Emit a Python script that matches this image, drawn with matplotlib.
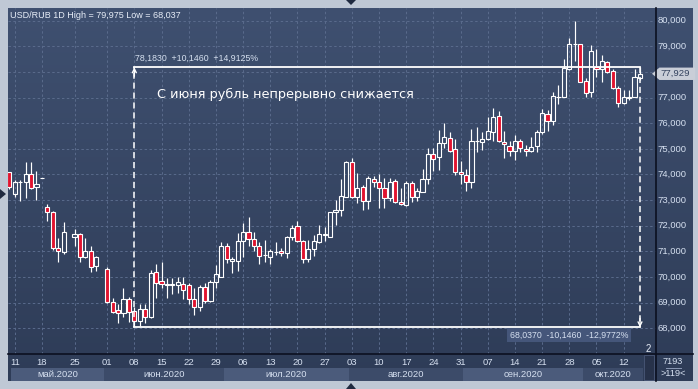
import numpy as np
import pandas as pd
import matplotlib
matplotlib.use("Agg")
import matplotlib.pyplot as plt
from matplotlib.patches import Polygon, Rectangle
from matplotlib.colors import LinearSegmentedColormap
import matplotlib.transforms as mtransforms

# ---------------- data ----------------
title_pair = "USD/RUB 1D"
# sessions: weekdays plus two empty weekend slots present on the reference axis
extra_sessions = ["2020-05-23", "2020-05-30"]
sessions = sorted(list(pd.bdate_range("2020-05-08", "2020-10-15")) +
                  [pd.Timestamp(d) for d in extra_sessions])

opens = [74.08, 73.24, 73.70, 73.70, 74.02, 73.52, 73.85, 72.72, 72.53, 71.12,
         70.99, None, 71.57, 71.68, 70.79, 71.02, 70.44, None, 70.31, 69.04,
         68.70, 68.58, 69.13, 68.66, 68.28, 68.74, 68.45, 70.18, 69.84, 69.70,
         69.70, 69.69, 69.72, 69.69, 69.14, 68.82, 69.60, 69.08, 69.79, 70.01,
         71.21, 70.64, 70.64, 71.41, 71.74, 71.47, 71.22, 70.84, 70.79, 70.98,
         71.02, 70.95, 71.55, 71.99, 71.42, 70.69, 71.08, 71.38, 71.64, 71.57,
         72.52, 72.61, 73.13, 74.47, 73.11, 73.50, 72.98, 73.81, 73.70, 73.48,
         73.09, 73.73, 72.92, 72.81, 73.66, 73.13, 73.33, 73.81, 74.80, 74.67,
         75.22, 75.41, 74.99, 74.09, 73.98, 73.70, 75.30, 75.26, 75.37, 75.67,
         76.29, 75.28, 75.12, 74.92, 75.32, 74.98, 74.92, 75.12, 75.65, 76.35,
         76.10, 77.03, 77.04, 78.12, 79.08, 79.09, 77.65, 77.23, 78.18, 78.10,
         78.40, 78.04, 77.36, 76.78, 77.00, 77.04, 77.78]
highs = [74.10, 73.78, 73.78, 74.47, 74.47, 74.15, 73.85, 72.85, 72.57, 71.53,
         72.13, None, 71.87, 71.70, 71.53, 71.22, 70.83, None, 70.40, 69.17,
         68.95, 69.58, 69.23, 68.84, 68.93, 68.95, 70.27, 70.51, 70.57, 69.97,
         69.97, 70.01, 70.00, 69.76, 69.56, 69.69, 69.78, 69.88, 70.47, 71.35,
         71.34, 70.77, 71.71, 72.10, 72.35, 71.74, 71.35, 71.46, 71.09, 71.35,
         71.12, 71.60, 72.03, 72.19, 71.44, 71.46, 71.64, 72.03, 71.96, 72.55,
         73.00, 73.81, 74.53, 74.66, 74.05, 73.59, 73.94, 73.94, 74.02, 73.85,
         73.85, 73.81, 73.46, 73.75, 73.75, 73.46, 74.20, 75.02, 75.02, 75.74,
         76.00, 75.67, 75.37, 74.54, 74.20, 75.76, 75.84, 75.67, 76.26, 76.58,
         76.48, 75.70, 75.31, 75.54, 75.39, 75.15, 75.47, 75.74, 76.54, 76.52,
         77.23, 77.49, 78.51, 79.31, 79.975, 79.10, 77.75, 79.05, 78.88, 78.66,
         78.44, 78.10, 77.45, 77.30, 77.30, 78.10, 78.183]
lows = [73.45, 73.13, 72.98, 73.09, 73.42, 73.00, 73.85, 72.20, 71.05, 70.60,
        70.89, None, 71.22, 70.60, 70.73, 70.18, 70.25, None, 69.00, 68.58,
        68.22, 68.45, 68.26, 68.037, 68.10, 68.22, 68.39, 69.19, 69.58, 69.19,
        69.33, 69.36, 69.16, 68.95, 68.52, 68.69, 69.00, 69.04, 69.58, 69.99,
        70.56, 70.17, 70.25, 70.79, 71.22, 71.03, 70.50, 70.60, 70.50, 70.86,
        70.83, 70.75, 71.46, 71.35, 70.54, 70.60, 70.82, 71.31, 71.40, 71.55,
        72.03, 72.38, 73.11, 73.07, 72.88, 72.61, 72.65, 73.52, 72.68, 72.68,
        72.97, 72.88, 72.81, 72.78, 72.94, 72.98, 73.33, 73.63, 74.15, 74.18,
        75.02, 74.89, 73.98, 73.62, 73.37, 73.48, 74.89, 74.96, 75.35, 75.32,
        75.28, 74.66, 74.73, 74.57, 74.87, 74.73, 74.87, 74.89, 75.58, 75.71,
        75.93, 76.75, 77.01, 78.08, 78.44, 77.60, 77.01, 77.01, 77.82, 77.62,
        77.97, 77.32, 76.65, 76.75, 76.90, 77.01, 77.70]
closes = [73.50, 73.72, 73.71, 74.02, 73.46, 73.63, 73.85, 72.53, 71.14, 71.02,
          71.74, None, 71.67, 70.79, 71.02, 70.40, 70.77, None, 69.04, 68.65,
          68.61, 69.13, 68.65, 68.30, 68.74, 68.45, 70.14, 69.76, 69.72, 69.72,
          69.71, 69.79, 69.48, 69.13, 68.82, 69.60, 69.08, 69.79, 70.11, 71.21,
          70.69, 70.70, 71.41, 71.74, 71.47, 71.22, 70.83, 70.85, 71.02, 70.99,
          70.93, 71.55, 71.90, 71.42, 70.69, 71.08, 71.42, 71.68, 71.68, 72.52,
          72.61, 73.16, 74.47, 73.13, 73.46, 72.97, 73.85, 73.70, 73.48, 73.09,
          73.70, 72.92, 72.84, 73.66, 73.13, 73.36, 73.81, 74.80, 74.59, 75.22,
          75.45, 74.93, 74.09, 74.01, 73.70, 75.31, 75.31, 75.37, 75.70, 76.26,
          75.32, 75.18, 74.92, 75.32, 75.02, 74.92, 75.08, 75.65, 76.39, 76.10,
          77.06, 77.04, 78.17, 79.09, 79.09, 77.62, 77.17, 78.82, 78.10, 78.43,
          78.01, 77.36, 76.78, 77.01, 77.01, 77.79, 77.93]
last_price = 77.929
price_ticks = [68, 69, 70, 71, 72, 73, 74, 75, 76, 77, 78, 79, 80]
month_names = {5: "май", 6: "июн", 7: "июл", 8: "авг", 9: "сен", 10: "окт"}
headline = "С июня рубль непрерывно снижается"
corner_top, corner_bottom, pane_count = "7193", ">119<", "2"

# ---------------- layout helpers ----------------
W, H = 698, 389
fig = plt.figure(figsize=(W / 100, H / 100), dpi=100)
FRAME = "#bfc8d5"
fig.patch.set_facecolor(FRAME)


def axes_px(x0, y0, x1, y1, **kw):
    return fig.add_axes([x0 / W, 1 - y1 / H, (x1 - x0) / W, (y1 - y0) / H], **kw)


def fnum(v, d):
    return f"{v:.{d}f}".replace(".", ",")


FONT = "Liberation Sans"
TXT = "#d6e0f0"
RED = "#e1142f"
GRID = "#5a6b8c"

# background panel with gradient
bg = axes_px(8, 8, 693, 381)
grad = np.linspace(0, 1, 256).reshape(-1, 1)
bg.imshow(grad, cmap=LinearSegmentedColormap.from_list("g", ["#3f5070", "#2e3c57"]),
          aspect="auto", extent=[0, 1, 0, 1])
bg.set_axis_off()

n = len(sessions)
X0, X1 = 8, 655.7
slot_px = 5.437
xlim = (-(9.3 - X0) / slot_px, (X1 - 9.3) / slot_px)
ylim = (80 - (354 - 20.7) / 25.63, 80 + (20.7 - 8) / 25.63)

ax = axes_px(X0, 8, X1, 354)
ax.set_facecolor("none")
ax.set_xlim(*xlim)
ax.set_ylim(*ylim)
ax.set_axis_off()

# grid
for p in price_ticks:
    ax.axhline(p, color=GRID, lw=0.7, ls=(0, (2.5, 2.5)), zorder=1)
mondays = [i for i, d in enumerate(sessions) if d.weekday() == 0 and opens[i] is not None]
for i in mondays:
    ax.axvline(i, color=GRID, lw=0.7, ls=(0, (2.5, 2.5)), zorder=1)

# candles
bw = 0.76
for i in range(n):
    o, h, l, c = opens[i], highs[i], lows[i], closes[i]
    if o is None:
        continue
    top, bot = max(o, c), min(o, c)
    ax.vlines(i, top, h, color="white", lw=0.85, zorder=3)
    ax.vlines(i, l, bot, color="white", lw=0.85, zorder=3)
    fc = RED if c < o else "none"
    ax.bar(i, max(top - bot, 0.004), bottom=bot, width=bw, color=fc,
           edgecolor="white", linewidth=0.8, zorder=4)

# measurement annotation
valid = [i for i in range(n) if lows[i] is not None]
i_lo = min(valid, key=lambda k: lows[k])
i_end = n - 1
lo_val, hi_val = lows[i_lo], highs[i_end]
diff = hi_val - lo_val
ax.plot([i_lo, i_end], [hi_val, hi_val], color="white", lw=1.3, zorder=5)
ax.plot([i_lo, i_end], [lo_val, lo_val], color="white", lw=1.3, zorder=5)
ax.plot([i_lo, i_lo], [lo_val, hi_val], color="white", lw=1.1, ls=(0, (4, 2.5)), zorder=5)
ax.plot([i_end, i_end], [hi_val, lo_val], color="white", lw=1.1, ls=(0, (4, 2.5)), zorder=5)
ax.annotate("", xy=(i_lo, hi_val), xytext=(0, -9), textcoords="offset pixels",
            arrowprops=dict(arrowstyle="->", color="white", lw=1.0, mutation_scale=7,
                            shrinkA=0, shrinkB=0), zorder=6)
ax.annotate("", xy=(i_end, lo_val), xytext=(0, 9), textcoords="offset pixels",
            arrowprops=dict(arrowstyle="->", color="white", lw=1.0, mutation_scale=7,
                            shrinkA=0, shrinkB=0), zorder=6)
ax.annotate(f"{fnum(hi_val, 4)}  +{fnum(diff, 4)}  +{fnum(diff / lo_val * 100, 4)}%",
            xy=(i_lo, hi_val), xytext=(1, 4), textcoords="offset pixels",
            ha="left", va="bottom", fontsize=6.3, color=TXT, family=FONT, zorder=6)
ax.annotate(f"{fnum(lo_val, 4)}  -{fnum(diff, 4)}  -{fnum(diff / hi_val * 100, 4)}%",
            xy=(i_end, lo_val), xytext=(-12, -8), textcoords="offset pixels",
            ha="right", va="center", fontsize=6.3, color=TXT, family=FONT, zorder=6,
            bbox=dict(boxstyle="square,pad=0.3", fc="#45567a", ec="none"))

ax.text(0.230, 0.751, headline, transform=ax.transAxes, fontsize=9.3,
        color="white", family="DejaVu Sans", ha="left", va="center", zorder=6)

ax.text(0.988, 0.0145, pane_count, transform=ax.transAxes, fontsize=7,
        color="#e6ecf6", family=FONT, ha="center", va="center")

# title
fig.text(10 / W, 1 - 15 / H,
         f"{title_pair} High = {fnum(max(h for h in highs if h is not None), 3)} "
         f"Low = {fnum(lo_val, 3)}",
         fontsize=6.5, color="#e8eef8", family=FONT, va="center", ha="left")

# price axis
pax = axes_px(X1, 8, 693, 354)
pax.set_facecolor("none")
pax.set_ylim(*ylim)
pax.set_xlim(0, 1)
pax.set_axis_off()
for p in price_ticks:
    if abs(p - last_price) < 0.5:
        continue  # hidden under the last-price marker in the reference
    pax.text(0.06, p, fnum(p, 3), fontsize=6.8, color=TXT, family=FONT,
             ha="left", va="center")
hh = 6.2 / 25.63
marker = Polygon([(-0.10, last_price), (0.10, last_price + hh), (1.06, last_price + hh),
                  (1.06, last_price - hh), (0.10, last_price - hh)], closed=True,
                 transform=mtransforms.blended_transform_factory(pax.transAxes, pax.transData),
                 fc="#c9ced8", ec="none", clip_on=False, zorder=5)
pax.add_patch(marker)
pax.text(0.13, last_price, fnum(last_price, 3), fontsize=6.8, color="#34435f",
         family=FONT, ha="left", va="center", zorder=6)

# time axis
tax = axes_px(X0, 354, X1, 381)
tax.set_facecolor("none")
tax.set_xlim(*xlim)
tax.set_ylim(0, 1)
tax.set_axis_off()
month_starts = []
for i, d in enumerate(sessions):
    if opens[i] is None:
        continue
    if not month_starts or d.month != sessions[month_starts[-1]].month:
        month_starts.append(i)
bounds = [xlim[0] + 0.5] + [m - 0.5 for m in month_starts[1:]] + [n - 0.5]
for k, m in enumerate(month_starts):
    a, b = bounds[k], bounds[k + 1]
    tax.add_patch(Rectangle((a, 0.0), b - a, 0.48,
                            fc="#4b5b7b" if k % 2 == 0 else "#3c4b69", ec="none"))
    tax.text((a + b) / 2, 0.25, f"{month_names[sessions[m].month]}.{sessions[m].year}",
             fontsize=6.8, color=TXT, family=FONT, ha="center", va="center")
for i in mondays:
    tax.text(i, 0.70, f"{sessions[i].day:02d}", fontsize=6.8, color=TXT,
             family=FONT, ha="center", va="center")
tax.add_patch(Rectangle((n - 0.3, 0.05), 1.9, 0.9, fc="#27324a", ec="#4a5878", lw=0.6))

# separators
fig.add_artist(plt.Line2D([8 / W, 693 / W], [1 - 354 / H, 1 - 354 / H],
                          color="#0b1020", lw=1.2))
fig.add_artist(plt.Line2D([X1 / W, X1 / W], [1 - 8 / H, 1 - 381 / H],
                          color="#0b1020", lw=1.2))

# corner box
fig.text(673 / W, 1 - 361 / H, corner_top, fontsize=6.6, color=TXT, family=FONT,
         ha="center", va="center")
fig.add_artist(plt.Line2D([666 / W, 681 / W], [1 - 368 / H, 1 - 368 / H],
                          color="#8a98b4", lw=0.7))
fig.text(673 / W, 1 - 374 / H, corner_bottom, fontsize=6.6, color=TXT, family=FONT,
         ha="center", va="center")

# frame arrows
for pts in ([(346, 0), (356, 0), (351, 5)], [(346, 389), (356, 389), (351, 383)],
            [(0, 189), (0, 199), (6, 194)]):
    fig.add_artist(Polygon([(x / W, 1 - y / H) for x, y in pts], closed=True,
                           transform=fig.transFigure, fc="#1f2a40", ec="none"))

fig.savefig("out.png", dpi=100, facecolor=FRAME)
